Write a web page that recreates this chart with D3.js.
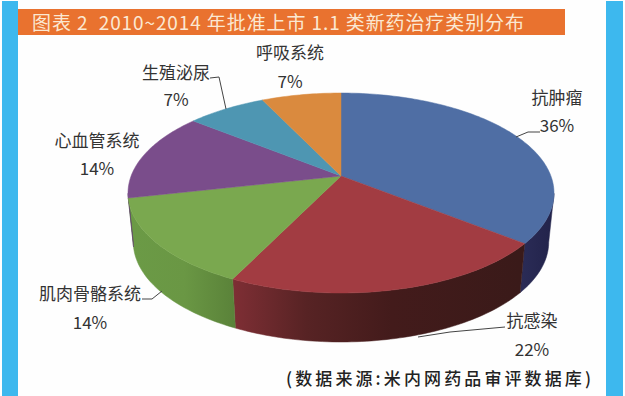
<!DOCTYPE html>
<html>
<head>
<meta charset="utf-8">
<script src="https://cdn.jsdelivr.net/npm/d3@7"></script>
<style>
  html, body { margin: 0; padding: 0; background: #fff; }
  svg { display: block; }
</style>
</head>
<body>
<script>
// Values
const categories = ["抗肿瘤", "抗感染", "肌肉骨骼系统", "心血管系统", "生殖泌尿", "呼吸系统"];
const shares = [35.7, 21.5, 14.3, 14.3, 7.1, 7.1];
const percentLabels = ["36%", "22%", "14%", "14%", "7%", "7%"];
const topColors = ["#4f6ea4", "#a23c42", "#7aa84f", "#7a4d8b", "#4e96b2", "#da8a3e"];
const titleText = "图表 2  2010~2014 年批准上市 1.1 类新药治疗类别分布";
const sourceText = "(数据来源:米内网药品审评数据库)";

const width = 625, height = 396;
const FONT = '"Noto Sans CJK SC", "Noto Sans", sans-serif';
const TEXT_COLOR = "#333";

const svg = d3.select("body").append("svg")
  .attr("width", width).attr("height", height)
  .attr("viewBox", [0, 0, width, height])
  .style("font-family", FONT);

svg.append("rect").attr("width", width).attr("height", height).attr("fill", "#fefefe");

// Frame
svg.append("rect").attr("x", 2).attr("y", 1).attr("width", 16).attr("height", height).attr("fill", "#3db8ee");
svg.append("rect").attr("x", 606).attr("y", 1).attr("width", 17).attr("height", height).attr("fill", "#3db8ee");

// Title bar
svg.append("rect").attr("x", 18).attr("y", 9).attr("width", 547).attr("height", 26).attr("fill", "#e9722f");
svg.append("text")
  .attr("x", 32).attr("y", 29.5)
  .attr("fill", "#fbe8d2")
  .style("font-size", "19px")
  .style("white-space", "pre")
  .attr("textLength", 492)
  .attr("xml:space", "preserve")
  .text(titleText);

// Perspective disc: u,v on the unit circle, v towards the viewer
const PERSP = 0.17;
const xTop = d3.scaleLinear().domain([-1, 1]).range([341 - 209.9, 341 + 209.9]);
const yTop = d3.scaleLinear().domain([-1, 1]).range([176 - 97.1, 176 + 97.1]);
const xBase = d3.scaleLinear().domain([-1, 1]).range([341 - 204.7, 341 + 204.7]);
const yBase = d3.scaleLinear().domain([-1, 1]).range([225 - 97.1, 225 + 97.1]);

function project(a, xs, ys) {
  const u = Math.sin(a), v = -Math.cos(a);
  const w = 1 - PERSP * v;
  return [xs(u / w), ys(v / w)];
}
const arcAngles = (a0, a1) => {
  const n = Math.max(2, Math.ceil((a1 - a0) / 0.02));
  return d3.range(n + 1).map(i => a0 + (a1 - a0) * i / n);
};
const line = d3.line();

const arcs = d3.pie().sort(null).value(d => d)(shares);

// Side wall, visible between the left and right extremes of the disc
const SIDE_FROM = 100 * Math.PI / 180, SIDE_TO = 260 * Math.PI / 180;
const sideStops = [
  [[0, "#23244c"], [1, "#2b2c57"]],
  [[0, "#3a1a19"], [0.45, "#431b1b"], [0.75, "#572324"], [1, "#7d2e34"]],
  [[0, "#5a8239"], [0.5, "#6a9744"], [1, "#6b9a46"]],
  [[0, "#5c3a6a"], [1, "#5c3a6a"]],
];
const defs = svg.append("defs");
const sides = svg.append("g");
arcs.slice(0, 4).forEach((d, i) => {
  const a0 = Math.max(d.startAngle, SIDE_FROM), a1 = Math.min(d.endAngle, SIDE_TO);
  if (a1 <= a0) return;
  const angles = arcAngles(a0, a1);
  const top = angles.map(a => project(a, xTop, yTop));
  const base = angles.map(a => project(a, xBase, yBase)).reverse();
  const grad = defs.append("linearGradient")
    .attr("id", `side-${i}`)
    .attr("gradientUnits", "userSpaceOnUse")
    .attr("x1", d3.max(base, p => p[0])).attr("x2", d3.min(base, p => p[0]))
    .attr("y1", 0).attr("y2", 0);
  sideStops[i].forEach(s => grad.append("stop").attr("offset", s[0]).attr("stop-color", s[1]));
  sides.append("path")
    .attr("d", line(top.concat(base)) + "Z")
    .attr("fill", `url(#side-${i})`)
    .attr("stroke", `url(#side-${i})`)
    .attr("stroke-width", 0.5);
});

// Top face
const apex = [xTop(0), yTop(0)];
svg.append("g").selectAll("path")
  .data(arcs)
  .join("path")
  .attr("d", d => line([apex].concat(arcAngles(d.startAngle, d.endAngle).map(a => project(a, xTop, yTop)))) + "Z")
  .attr("fill", (d, i) => topColors[i])
  .attr("stroke", (d, i) => topColors[i])
  .attr("stroke-width", 0.5);

// Leader lines
const leaders = [
  [[540, 132], [528, 132], [516, 137]],
  [[505, 327], [450, 332], [418, 337]],
  [[142, 299], [152, 299], [162, 291]],
  [[210, 78], [219, 77], [226, 109]],
];
svg.append("g").selectAll("path")
  .data(leaders)
  .join("path")
  .attr("d", line)
  .attr("fill", "none")
  .attr("stroke", "#444")
  .attr("stroke-width", 1);

// Data labels
const labelPos = [
  {x: 557, name: 98, pct: 126},
  {x: 532, name: 321, pct: 350},
  {x: 90, name: 294, pct: 323},
  {x: 97, name: 141, pct: 169},
  {x: 176, name: 73, pct: 100},
  {x: 290, name: 53, pct: 82},
];
const labels = svg.append("g")
  .attr("fill", TEXT_COLOR)
  .attr("text-anchor", "middle")
  .style("font-size", "17px");
categories.forEach((c, i) => {
  const p = labelPos[i];
  labels.append("text").attr("x", p.x).attr("y", p.name).attr("dy", "0.36em").text(c);
  labels.append("text").attr("x", p.x).attr("y", p.pct).attr("dy", "0.36em").text(percentLabels[i]);
});

// Source note
svg.append("text")
  .attr("x", 286).attr("y", 385)
  .attr("fill", "#222")
  .attr("textLength", 305)
  .style("font-size", "17px")
  .style("font-weight", 500)
  .text(sourceText);
</script>
</body>
</html>
